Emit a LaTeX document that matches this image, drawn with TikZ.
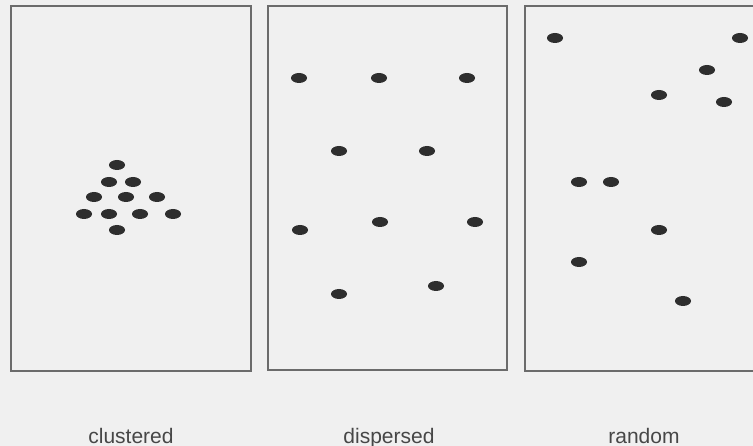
\documentclass[tikz,border=0pt]{standalone}
\usepackage{fontspec}
\setmainfont{Liberation Sans}
\usetikzlibrary{shapes.geometric}
\begin{document}
\begin{tikzpicture}[x=1pt,y=-1pt,
  panel/.style={draw=black!58,line width=1.4pt},
  dot/.style={ellipse,fill=black!82,draw=none,minimum width=16pt,minimum height=10pt,inner sep=0pt},
  lbl/.style={anchor=base,font=\fontsize{21}{24}\selectfont,text=black!72}]
\useasboundingbox[fill=black!6] (0,0) rectangle (753,446);
\clip (0,0) rectangle (753,446);
% panels
\draw[panel] (11,6) rectangle (251,371);
\draw[panel] (268,6) rectangle (507,370);
\draw[panel] (760,6) -- (525,6) -- (525,371) -- (760,371);
% clustered
\foreach \p/\x/\y in {a1/117/165,a2/109/182,a3/133/182,a4/94/197,a5/126/197,a6/157/197,a7/84/214,a8/109/214,a9/140/214,a10/173/214,a11/117/230}
  \node[dot] (\p) at (\x,\y) {};
% dispersed
\foreach \p/\x/\y in {b1/299/78,b2/379/78,b3/467/78,b4/339/151,b5/427/151,b6/300/230,b7/380/222,b8/475/222,b9/339/294,b10/436/286}
  \node[dot] (\p) at (\x,\y) {};
% random
\foreach \p/\x/\y in {c1/555/38,c2/740/38,c3/707/70,c4/659/95,c5/724/102,c6/579/182,c7/611/182,c8/659/230,c9/579/262,c10/683/301}
  \node[dot] (\p) at (\x,\y) {};
% labels
\node[lbl] (l1) at (131,443) {clustered};
\node[lbl] (l2) at (389,443) {dispersed};
\node[lbl] (l3) at (644,443) {random};
\end{tikzpicture}
\end{document}
